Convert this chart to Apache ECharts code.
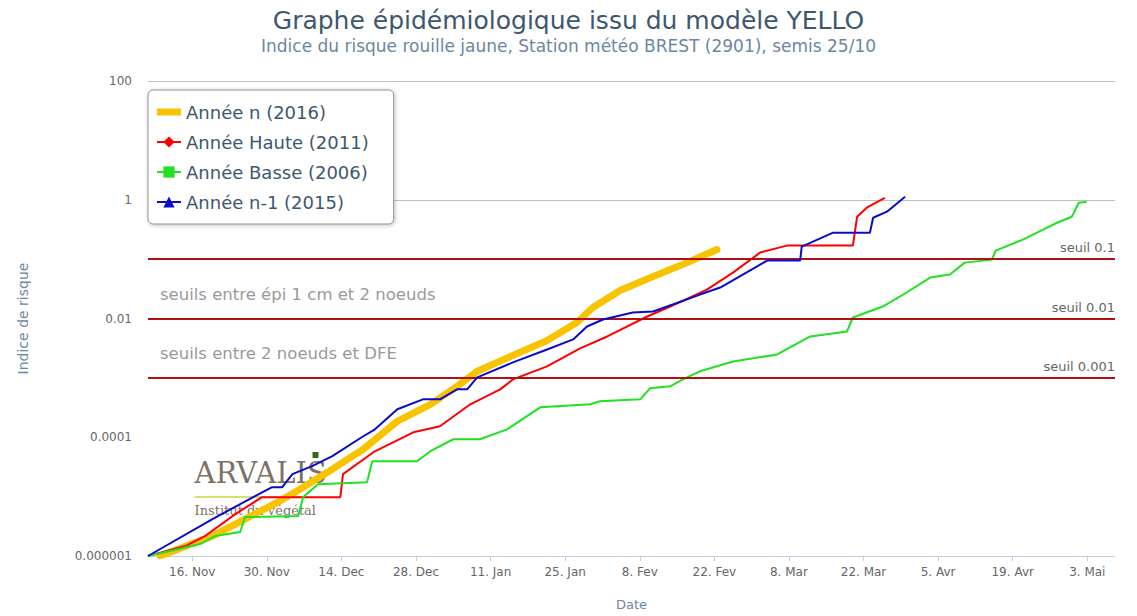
<!DOCTYPE html>
<html><head><meta charset="utf-8">
<script src="https://cdn.jsdelivr.net/npm/echarts@6/dist/echarts.min.js"></script>
<style>html,body{margin:0;padding:0;background:#fff}#c{width:1137px;height:616px}</style>
</head><body><div id="c"></div>
<script>
// x values are days counted from 1 Nov 2016
const tickDays = [15,29,43,57,71,85,99,113,127,141,155,169,183];
const tickLabels = ['16. Nov','30. Nov','14. Dec','28. Dec','11. Jan','25. Jan','8. Fev','22. Fev','8. Mar','22. Mar','5. Avr','19. Avr','3. Mai'];
const yTicks = [1e-6, 1e-4, 1e-2, 1, 100];
const yTickLabels = ['0.000001','0.0001','0.01','1','100'];

const seriesNames = ['Année n (2016)','Année Haute (2011)','Année Basse (2006)','Année n-1 (2015)'];

const n2016Days = [9.0,12.4,18.8,24.9,31.1,35.3,41.3,47.1,53.5,59.7,64.7,68.5,75.2,81.6,87.2,90.2,95.3,101.5,107.9,113.5];
const n2016Values = [1e-6,1.31e-6,2.17e-6,4.19e-6,8.09e-6,1.34e-5,2.9e-5,6.29e-5,1.86e-4,3.59e-4,7.2e-4,1.29e-3,2.39e-3,4.27e-3,8.57e-3,1.53e-2,2.96e-2,5.08e-2,8.73e-2,0.145];

const hauteDays = [6.7,13.7,17.4,23.1,28.1,42.8,43.3,49.0,56.5,61.5,67.2,72.8,75.2,81.6,87.8,92.9,100.4,104.7,111.6,116.5,121.6,126.6,139.0,139.8,141.6,145.0];
const hauteValues = [1e-6,1.47e-6,2.17e-6,5.08e-6,9.8e-6,9.8e-6,2.39e-5,5.6e-5,1.21e-4,1.53e-4,3.59e-4,6.41e-4,9.44e-4,1.56e-3,3.13e-3,4.98e-3,1.08e-2,1.59e-2,3.07e-2,5.93e-2,0.129,0.169,0.169,0.518,0.734,1.08];

const basseDays = [6.7,16.5,19.3,24.0,24.9,34.9,35.8,38.6,47.8,48.8,57.2,59.7,64.0,69.0,74.1,80.3,89.7,91.5,99.1,100.9,104.7,107.1,110.3,116.5,124.8,131.0,137.9,139.0,144.6,149.1,153.5,157.2,160.0,165.1,165.8,170.9,174.7,177.3,180.1,181.4,182.9];
const basseValues = [1e-6,1.59e-6,2.17e-6,2.53e-6,4.52e-6,4.7e-6,9.8e-6,1.62e-5,1.75e-5,3.95e-5,3.95e-5,5.82e-5,9.25e-5,9.25e-5,1.36e-4,3.19e-4,3.59e-4,4.03e-4,4.35e-4,6.66e-4,7.2e-4,9.44e-4,1.29e-3,1.89e-3,2.48e-3,4.98e-3,6.05e-3,1.04e-2,1.59e-2,2.74e-2,4.89e-2,5.49e-2,8.73e-2,9.81e-2,0.139,0.213,0.313,0.41,0.518,0.89,0.925];

const n2015Days = [6.7,18.8,26.8,30.0,31.9,33.8,37.5,41.3,47.1,49.3,53.5,58.3,61.5,64.7,66.6,68.5,75.2,81.6,86.5,89.1,92.1,97.7,101.5,105.2,110.3,114.1,121.6,122.9,129.1,129.4,135.3,142.2,142.8,145.4,148.8];
const n2015Values = [1e-6,4.19e-6,1.02e-5,1.44e-5,1.44e-5,2.39e-5,3.26e-5,4.8e-5,1.04e-4,1.36e-4,2.96e-4,4.35e-4,4.35e-4,6.41e-4,6.41e-4,1.02e-3,1.82e-3,3.01e-3,4.44e-3,7.34e-3,9.62e-3,1.26e-2,1.31e-2,1.72e-2,2.53e-2,3.32e-2,8.1e-2,9.44e-2,9.44e-2,0.162,0.279,0.279,0.498,0.629,1.12];

const thresholds = [0.1, 0.01, 0.001];
const thresholdLabels = ['seuil 0.1','seuil 0.01','seuil 0.001'];

const X_MIN = 6.7, X_MAX = 188.2;
function pairs(d, v) { return d.map((x, i) => [x, v[i]]); }
const FONT = '"DejaVu Sans", Verdana, sans-serif';

const chart = echarts.init(document.getElementById('c'), null, {renderer: 'svg'});
chart.setOption({
  animation: false,
  backgroundColor: '#fff',
  textStyle: {fontFamily: FONT},
  title: {
    text: 'Graphe épidémiologique issu du modèle YELLO',
    subtext: 'Indice du risque rouille jaune, Station météo BREST (2901), semis 25/10',
    left: 'center', top: 3, itemGap: 4,
    textStyle: {fontFamily: FONT, fontSize: 25, fontWeight: 'normal', color: '#3E576F'},
    subtextStyle: {fontFamily: FONT, fontSize: 17, color: '#6D869F'}
  },
  legend: {
    orient: 'vertical', left: 148, top: 90,
    data: [
      {name: seriesNames[0], icon: 'path://M0,0 L24,0 L24,7 L0,7 Z', itemStyle: {color: '#F8C300'}},
      seriesNames[1], seriesNames[2], seriesNames[3]
    ],
    itemWidth: 24, itemHeight: 14, itemGap: 12,
    padding: [13, 25, 13, 8],
    backgroundColor: '#fff', borderColor: '#909090', borderWidth: 1, borderRadius: 5,
    shadowBlur: 4, shadowColor: 'rgba(0,0,0,0.25)', shadowOffsetX: 1, shadowOffsetY: 1,
    textStyle: {fontFamily: FONT, fontSize: 18, color: '#3E576F'}
  },
  grid: {left: 148, right: 22, top: 81, bottom: 59, containLabel: false},
  xAxis: {
    type: 'value', min: X_MIN, max: X_MAX,
    name: 'Date', nameLocation: 'middle', nameGap: 42,
    nameTextStyle: {fontFamily: FONT, fontSize: 13, color: '#6D869F'},
    axisLine: {show: true, lineStyle: {color: '#C0D0E0', width: 1}},
    axisTick: {show: true, customValues: tickDays, length: 5, lineStyle: {color: '#C0D0E0'}},
    axisLabel: {customValues: tickDays, color: '#666', fontSize: 12, margin: 10,
      formatter: v => { const i = tickDays.indexOf(Math.round(v)); return i >= 0 ? tickLabels[i] : ''; }},
    splitLine: {show: false}
  },
  yAxis: {
    type: 'log', logBase: 100, min: 1e-6, max: 100,
    name: 'Indice de risque', nameLocation: 'middle', nameGap: 118,
    nameTextStyle: {fontFamily: FONT, fontSize: 14, color: '#6D869F'},
    axisLine: {show: false}, axisTick: {show: false},
    axisLabel: {color: '#666', fontSize: 12, margin: 16,
      formatter: v => { const e = Math.round(Math.log10(v)); const i = yTicks.findIndex(t => Math.round(Math.log10(t)) === e); return i >= 0 ? yTickLabels[i] : ''; }},
    splitLine: {show: true, lineStyle: {color: ['rgba(0,0,0,0)','rgba(0,0,0,0)','#C0C0C0','#C0C0C0','#C0C0C0'], width: 1}}
  },
  graphic: [
    {type: 'text', left: 160, top: 286, z: 1, style: {text: 'seuils entre épi 1 cm et 2 noeuds', fill: '#999', font: '16.5px ' + FONT}},
    {type: 'text', left: 160, top: 345, z: 1, style: {text: 'seuils entre 2 noeuds et DFE', fill: '#999', font: '16.5px ' + FONT}},
    {type: 'group', left: 192, top: 452, z: 0, children: [
      {type: 'text', left: 0, top: 6, style: {text: 'ARVALIS', fill: '#5b4a38', opacity: 0.8, font: '29px "DejaVu Serif", serif'}},
      {type: 'rect', shape: {x: 118, y: 0, width: 6, height: 6}, style: {fill: '#2f6b1f'}},
      {type: 'line', shape: {x1: 0, y1: 45, x2: 112, y2: 45}, style: {stroke: '#c2d640', lineWidth: 1.5}},
      {type: 'text', left: 0, top: 52, style: {text: 'Institut du végétal', fill: '#5b4a38', opacity: 0.8, font: '13px "DejaVu Serif", serif'}}
    ]}
  ],
  series: [
    {name: seriesNames[0], type: 'line', data: pairs(n2016Days, n2016Values), symbol: 'circle', symbolSize: 0, showSymbol: false,
      itemStyle: {color: '#F8C300'}, lineStyle: {color: '#F8C300', width: 7, cap: 'round'}, z: 2},
    {name: seriesNames[1], type: 'line', data: pairs(hauteDays, hauteValues), symbol: 'diamond', symbolSize: 9, showSymbol: false,
      itemStyle: {color: '#FF0000'}, lineStyle: {color: '#FF0000', width: 2}, z: 3},
    {name: seriesNames[2], type: 'line', data: pairs(basseDays, basseValues), symbol: 'rect', symbolSize: 8, showSymbol: false,
      itemStyle: {color: '#22E022'}, lineStyle: {color: '#22E022', width: 2}, z: 4},
    {name: seriesNames[3], type: 'line', data: pairs(n2015Days, n2015Values), symbol: 'triangle', symbolSize: 9, showSymbol: false,
      itemStyle: {color: '#0A0ACC'}, lineStyle: {color: '#0A0ACC', width: 2}, z: 5},
    {name: 'seuils', type: 'line', data: [], z: 1,
      markLine: {silent: true, symbol: 'none',
        lineStyle: {color: '#B01010', width: 2, type: 'solid'},
        label: {position: 'insideEndTop', color: '#666', fontFamily: FONT, fontSize: 13, distance: [0, 5]},
        data: thresholds.map((t, i) => [
          {coord: [X_MIN, t], label: {formatter: thresholdLabels[i]}},
          {coord: [X_MAX, t]}
        ])}}
  ]
});
</script></body></html>
